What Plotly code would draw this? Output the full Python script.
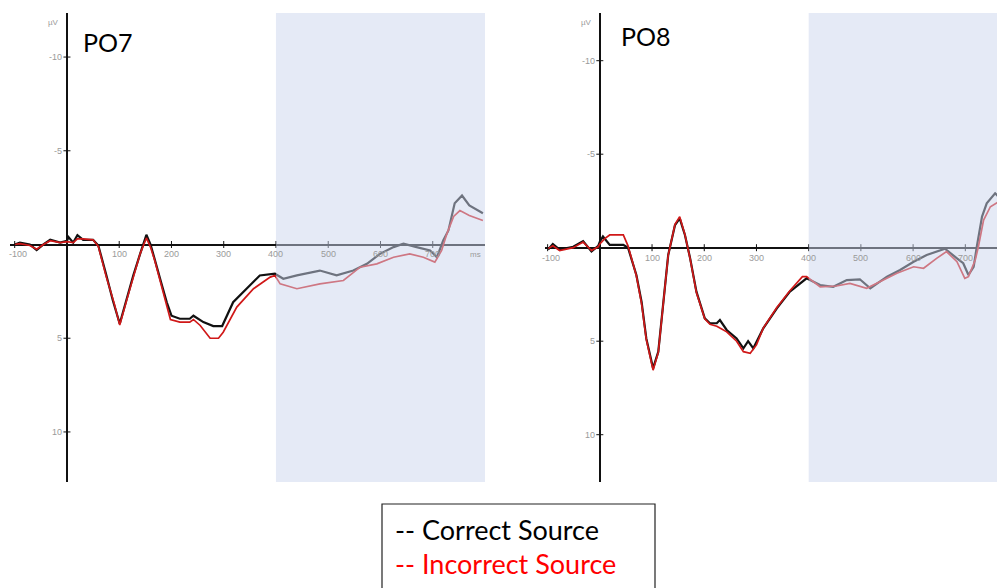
import plotly.graph_objects as go

# ---------------- data (ms, µV; positive plotted downward) ----------------
po7_t_correct = [-100, -90, -71, -58, -45, -32, -13, 0, 3, 12, 20, 31, 50, 60, 75, 88, 101, 115, 127, 140,
                 152, 160, 168, 180, 191, 200, 216, 235, 242, 261, 280, 297, 318, 344, 369, 398, 414, 440,
                 484, 516, 548, 574, 599, 625, 644, 669, 695, 708, 720, 730, 742, 756, 770, 796]
po7_correct = [0, -0.1, 0, 0.3, 0, -0.25, -0.1, -0.2, -0.4, -0.1, -0.5, -0.25, -0.25, 0.05, 1.6, 3.0, 4.23,
               2.8, 1.65, 0.5, -0.52, 0.0, 0.75, 2.0, 3.08, 3.8, 3.96, 3.96, 3.8, 4.14, 4.35, 4.35, 3.08,
               2.36, 1.65, 1.56, 1.83, 1.65, 1.39, 1.65, 1.39, 1.03, 0.5, 0.14, -0.04, 0.14, 0.32, 0.68,
               -0.21, -0.75, -2.2, -2.61, -2.08, -1.67]

po7_t_incorrect = [-100, -90, -71, -58, -45, -32, -13, 0, 12, 20, 31, 50, 60, 75, 90, 101, 115, 127, 140, 152,
                   160, 168, 180, 191, 198, 216, 235, 242, 255, 274, 290, 299, 325, 357, 389, 398, 408, 440,
                   484, 529, 561, 593, 625, 656, 682, 704, 717, 727, 740, 752, 770, 796]
po7_incorrect = [0, -0.05, 0.05, 0.25, 0, -0.2, -0.1, -0.15, -0.1, -0.3, -0.3, -0.25, 0.1, 1.7, 3.1, 4.3,
                 2.9, 1.7, 0.5, -0.35, 0.15, 0.85, 2.1, 3.2, 4.0, 4.14, 4.14, 4.0, 4.32, 5.0, 5.0, 4.68,
                 3.34, 2.36, 1.74, 1.65, 2.1, 2.36, 2.1, 1.92, 1.21, 1.03, 0.68, 0.5, 0.68, 0.94, 0.32,
                 -0.57, -1.5, -1.81, -1.55, -1.28]

po8_t_correct = [-99, -90, -77, -51, -32, -16, -3, 0, 6, 19, 45, 54, 70, 80, 89, 102, 112, 121, 131, 144,
                 153, 163, 173, 185, 201, 211, 224, 230, 243, 262, 275, 284, 294, 313, 339, 364, 396, 422,
                 447, 473, 498, 518, 550, 575, 601, 626, 652, 661, 684, 696, 706, 716, 722, 732, 741, 757,
                 770, 776]
po8_correct = [0.1, -0.2, 0.1, -0.05, -0.35, 0.2, -0.1, -0.32, -0.6, -0.15, -0.15, 0, 1.46, 2.9, 4.85, 6.45,
               5.56, 3.06, 0.39, -1.21, -1.57, -0.68, 0.57, 2.35, 3.78, 4.04, 4.04, 3.87, 4.4, 4.85, 5.38,
               5.0, 5.38, 4.31, 3.24, 2.35, 1.64, 2.0, 2.09, 1.73, 1.69, 2.17, 1.55, 1.19, 0.75, 0.39,
               0.12, 0.05, 0.57, 0.83, 1.46, 1.02, -0.05, -1.66, -2.37, -2.91, -2.55, -2.5]

po8_t_incorrect = [-99, -90, -77, -51, -32, -16, -3, 0, 10, 19, 45, 54, 70, 80, 89, 102, 112, 121, 131, 144,
                   153, 163, 173, 185, 201, 211, 224, 230, 243, 262, 275, 288, 300, 313, 339, 364, 388, 396,
                   422, 453, 479, 511, 543, 569, 601, 620, 645, 664, 684, 699, 706, 719, 725, 735, 748, 764,
                   774]
po8_incorrect = [0.05, -0.1, 0.15, 0, -0.3, 0.15, -0.05, -0.2, -0.5, -0.68, -0.68, -0.1, 1.5, 3.0, 4.9, 6.55,
                 5.6, 3.1, 0.4, -1.25, -1.66, -0.7, 0.6, 2.4, 3.8, 4.1, 4.2, 4.3, 4.5, 5.0, 5.56, 5.65, 5.2,
                 4.3, 3.2, 2.3, 1.55, 1.55, 2.09, 2.05, 1.91, 2.17, 1.73, 1.37, 1.02, 1.1, 0.57, 0.21, 0.75,
                 1.64, 1.55, 0.66, -0.05, -1.48, -2.19, -2.46, -2.28]

x_ticks = [-100, 100, 200, 300, 400, 500, 600, 700]
x_tick_labels = ["-100", "100", "200", "300", "400", "500", "600", "700"]
y_ticks = [-10, -5, 5, 10]
y_tick_labels = ["-10", "-5", "5", "10"]
panel_titles = ["PO7", "PO8"]
legend_labels = ["-- Correct Source", "-- Incorrect Source"]
shade_start = 400

# ---------------- layout ----------------
OFF = 8                      # page body margin
W, H = 1005 - OFF, 588 - OFF
BLACK = "#111111"
RED = "#d01818"
GRAY = "#9a9a9a"


def px_x(p):
    return (p - OFF) / W


def px_y(p):
    return 1 - (p - OFF) / H


fig = go.Figure()

panels = [
    dict(x="x", y="y", t_c=po7_t_correct, v_c=po7_correct, t_i=po7_t_incorrect, v_i=po7_incorrect,
         xr=[-109, 800], yr=[12.67, -12.35], title=panel_titles[0], tx=81, ty=42, ms_x=781),
    dict(x="x2", y="y2", t_c=po8_t_correct, v_c=po8_correct, t_i=po8_t_incorrect, v_i=po8_incorrect,
         xr=[-105, 776], yr=[12.53, -12.55], title=panel_titles[1], tx=619, ty=36, ms_x=None),
]

for p in panels:
    fig.add_trace(go.Scatter(x=p["t_c"], y=p["v_c"], mode="lines", xaxis=p["x"], yaxis=p["y"],
                             line=dict(color=BLACK, width=2.2), hoverinfo="skip"))
    fig.add_trace(go.Scatter(x=p["t_i"], y=p["v_i"], mode="lines", xaxis=p["x"], yaxis=p["y"],
                             line=dict(color=RED, width=1.7), hoverinfo="skip"))
    # tick marks
    fig.add_trace(go.Scatter(x=x_ticks, y=[0] * len(x_ticks), mode="markers", xaxis=p["x"], yaxis=p["y"],
                             marker=dict(symbol="line-ns", size=5, line=dict(color=BLACK, width=1)),
                             hoverinfo="skip"))
    fig.add_trace(go.Scatter(x=[0] * len(y_ticks), y=y_ticks, mode="markers", xaxis=p["x"], yaxis=p["y"],
                             marker=dict(symbol="line-ew", size=5, line=dict(color=BLACK, width=1)),
                             hoverinfo="skip"))
    # shaded window (semi-transparent, drawn above)
    fig.add_shape(type="rect", xref=p["x"], yref=p["y"] + " domain", x0=shade_start, x1=p["xr"][1],
                  y0=0, y1=1, fillcolor="rgba(204,213,237,0.5)", line=dict(width=0), layer="above")
    # tick labels
    for xv, lab in zip(x_ticks, x_tick_labels):
        fig.add_annotation(x=xv, y=0, xref=p["x"], yref=p["y"], text=lab, showarrow=False,
                           yshift=-10, xshift=3 if xv < 0 else 0,
                           font=dict(size=9, color=GRAY, family="Liberation Sans"))
    if p["ms_x"] is not None:
        fig.add_annotation(x=p["ms_x"], y=0, xref=p["x"], yref=p["y"], text="ms", showarrow=False,
                           yshift=-10, font=dict(size=8, color=GRAY, family="Liberation Sans"))
    for yv, lab in zip(y_ticks, y_tick_labels):
        fig.add_annotation(x=0, y=yv, xref=p["x"], yref=p["y"], text=lab, showarrow=False,
                           xanchor="right", xshift=-3, font=dict(size=9, color=GRAY, family="Liberation Sans"))
    fig.add_annotation(x=0, y=p["yr"][1], xref=p["x"], yref=p["y"], text="µV", showarrow=False,
                       xanchor="right", yanchor="top", xshift=-6, yshift=-3,
                       font=dict(size=8, color=GRAY, family="Liberation Sans"))
    # panel title
    fig.add_annotation(x=px_x(p["tx"]), y=px_y(p["ty"]), xref="paper", yref="paper", text=p["title"],
                       showarrow=False, xanchor="left", yanchor="middle",
                       font=dict(size=25, color="#000000", family="Lato"))

axis_common = dict(showgrid=False, showticklabels=False, ticks="", showline=False,
                   zeroline=True, zerolinecolor=BLACK, zerolinewidth=2, fixedrange=True)

fig.update_layout(
    width=W, height=H, margin=dict(l=0, r=0, t=0, b=0),
    paper_bgcolor="white", plot_bgcolor="white", showlegend=False, hovermode=False,
    xaxis=dict(domain=[px_x(10), px_x(485)], range=panels[0]["xr"], anchor="y", **axis_common),
    yaxis=dict(domain=[px_y(482), px_y(13)], range=panels[0]["yr"], anchor="x", **axis_common),
    xaxis2=dict(domain=[px_x(545), px_x(1005)], range=panels[1]["xr"], anchor="y2", **axis_common),
    yaxis2=dict(domain=[px_y(482), px_y(13)], range=panels[1]["yr"], anchor="x2", **axis_common),
)

# legend box with coloured text
fig.add_shape(type="rect", xref="paper", yref="paper", x0=px_x(382), x1=px_x(655), y0=px_y(610), y1=px_y(504),
              line=dict(color="#222222", width=1.2), fillcolor="rgba(0,0,0,0)")
fig.add_annotation(x=px_x(393), y=px_y(529), xref="paper", yref="paper", text=legend_labels[0],
                   showarrow=False, xanchor="left", yanchor="middle",
                   font=dict(size=27, color="#000000", family="Lato"))
fig.add_annotation(x=px_x(393), y=px_y(563), xref="paper", yref="paper", text=legend_labels[1],
                   showarrow=False, xanchor="left", yanchor="middle",
                   font=dict(size=27, color="#ff0000", family="Lato"))

fig.write_html("out.html")
